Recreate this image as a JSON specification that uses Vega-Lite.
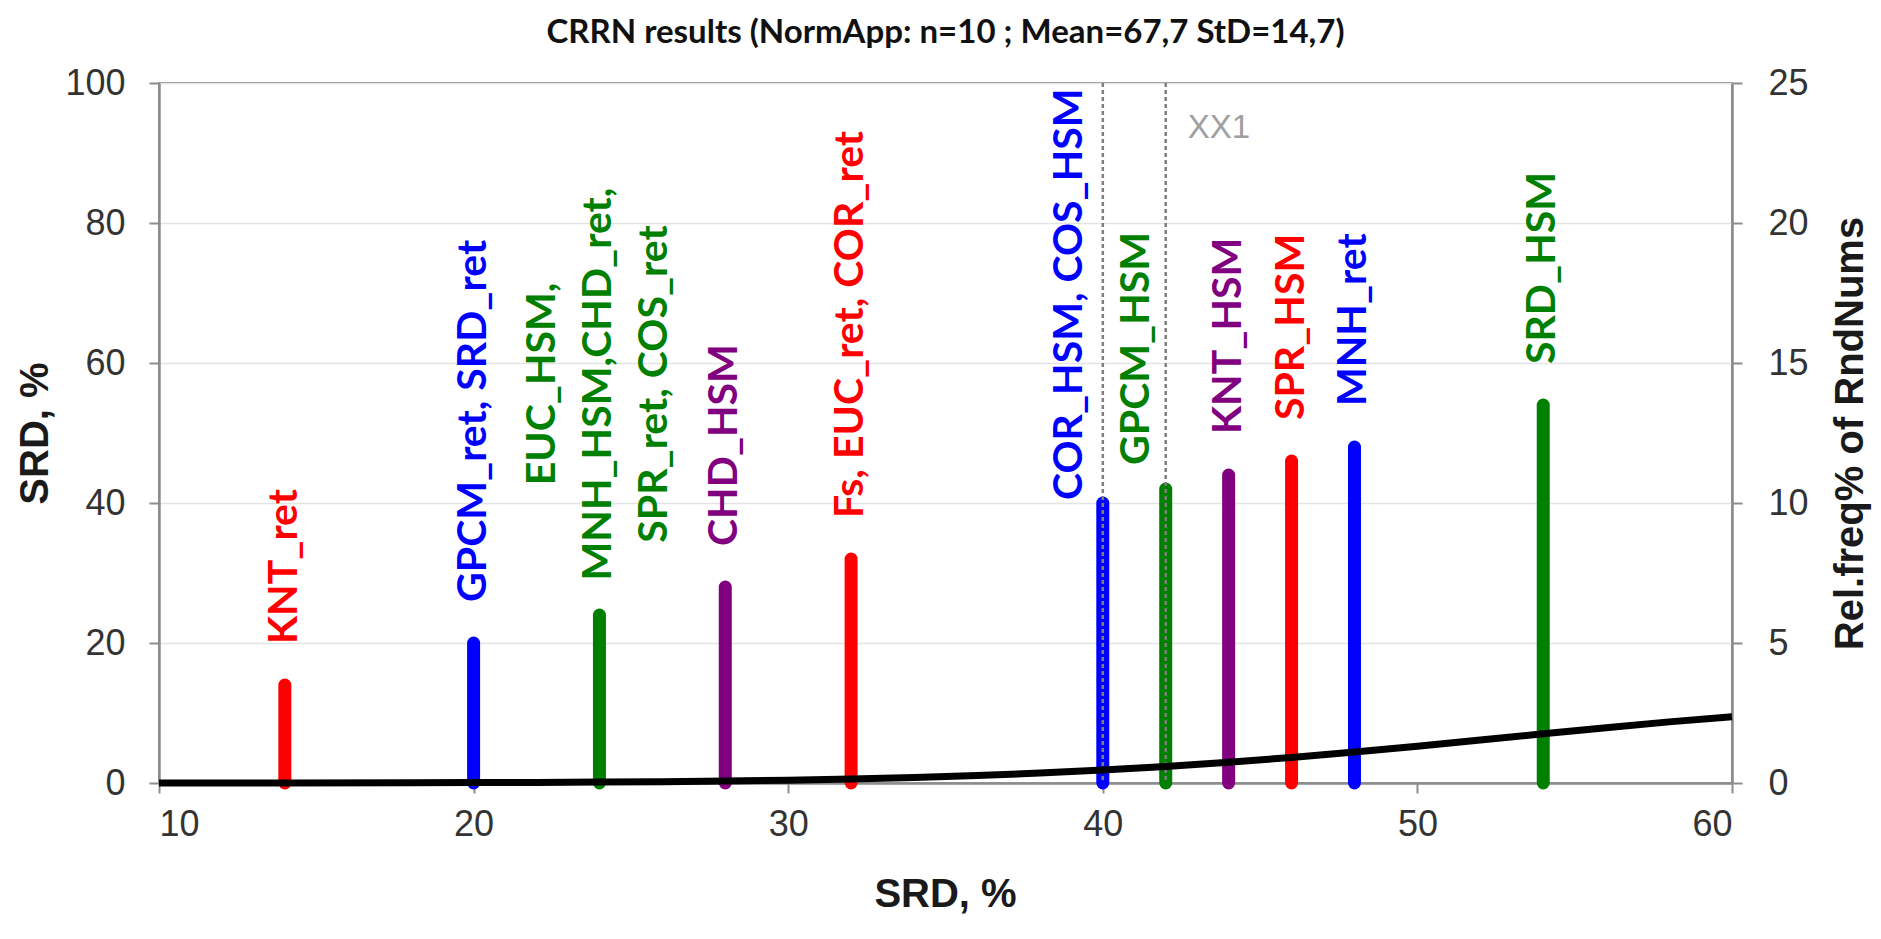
{
  "$schema": "https://vega.github.io/schema/vega-lite/v6.json",
  "width": 1573,
  "height": 700,
  "autosize": {"type": "none"},
  "padding": {"left": 159, "top": 83, "right": 149, "bottom": 156},
  "background": "white",
  "title": {
    "text": "CRRN results (NormApp: n=10 ; Mean=67,7 StD=14,7)",
    "font": "Lato, sans-serif",
    "fontSize": 33,
    "fontWeight": "bold",
    "color": "#111111",
    "anchor": "middle",
    "frame": "group",
    "baseline": "alphabetic",
    "offset": 23,
    "dy": 34
  },
  "config": {
    "view": {"stroke": "#8c8c8c", "strokeWidth": 2},
    "axis": {
      "domainColor": "#8c8c8c",
      "domainWidth": 2.5,
      "tickColor": "#8c8c8c",
      "tickWidth": 2,
      "tickSize": 10,
      "labelFont": "Liberation Sans, Arial, sans-serif",
      "labelFontSize": 36,
      "labelColor": "#333333",
      "titleFont": "Liberation Sans, Arial, sans-serif",
      "titleFontSize": 40,
      "titleFontWeight": "bold",
      "titleColor": "#1a1a1a"
    }
  },
  "datasets": {
    "hits": [
      {"x": 14, "y": 14, "grp": "red", "label": "KNT_ret"},
      {"x": 20, "y": 20, "grp": "blue", "label": "GPCM_ret,  SRD_ret"},
      {"x": 24, "y": 24, "grp": "green", "label": "EUC_HSM,\nMNH_HSM,CHD_ret,\nSPR_ret, COS_ret"},
      {"x": 28, "y": 28, "grp": "purple", "label": "CHD_HSM"},
      {"x": 32, "y": 32, "grp": "red", "label": "Fs, EUC_ret, COR_ret"},
      {"x": 40, "y": 40, "grp": "blue", "label": "COR_HSM, COS_HSM"},
      {"x": 42, "y": 42, "grp": "green", "label": "GPCM_HSM"},
      {"x": 44, "y": 44, "grp": "purple", "label": "KNT_HSM"},
      {"x": 46, "y": 46, "grp": "red", "label": "SPR_HSM"},
      {"x": 48, "y": 48, "grp": "blue", "label": "MNH_ret"},
      {"x": 54, "y": 54, "grp": "green", "label": "SRD_HSM"}
    ],
    "markers": [
      {"x": 40, "y": 100},
      {"x": 42, "y": 100}
    ],
    "notes": [
      {"x": 42, "y": 93.6, "label": "XX1"}
    ],
    "curve": [
      {"x": 10, "freq": 0.001},
      {"x": 14, "freq": 0.003},
      {"x": 18, "freq": 0.009},
      {"x": 20, "freq": 0.014},
      {"x": 22, "freq": 0.022},
      {"x": 24, "freq": 0.033},
      {"x": 26, "freq": 0.049},
      {"x": 28, "freq": 0.071},
      {"x": 30, "freq": 0.101},
      {"x": 32, "freq": 0.142},
      {"x": 34, "freq": 0.196},
      {"x": 36, "freq": 0.265},
      {"x": 38, "freq": 0.353},
      {"x": 40, "freq": 0.46},
      {"x": 42, "freq": 0.589},
      {"x": 44, "freq": 0.74},
      {"x": 46, "freq": 0.913},
      {"x": 48, "freq": 1.106},
      {"x": 50, "freq": 1.314},
      {"x": 52, "freq": 1.534},
      {"x": 54, "freq": 1.758},
      {"x": 56, "freq": 1.977},
      {"x": 58, "freq": 2.183},
      {"x": 60, "freq": 2.366}
    ]
  },
  "encoding": {
    "x": {
      "field": "x",
      "type": "quantitative",
      "scale": {"domain": [10, 60], "nice": false, "zero": false},
      "axis": {
        "values": [10, 20, 30, 40, 50, 60],
        "grid": false,
        "labelPadding": 14,
        "title": "SRD, %",
        "titleX": 786,
        "titleY": 111,
        "titleAlign": "center",
        "titleBaseline": "middle"
      }
    }
  },
  "layer": [
    {
      "encoding": {
        "y": {
          "field": "y",
          "type": "quantitative",
          "scale": {"domain": [0, 100], "nice": false},
          "axis": {
            "values": [0, 20, 40, 60, 80, 100],
            "grid": true,
            "gridColor": "#e4e4e4",
            "gridWidth": 1.5,
            "labelPadding": 24,
            "title": "SRD, %",
            "titleAngle": 270,
            "titleX": -124,
            "titleY": 350,
            "titleAlign": "center",
            "titleBaseline": "middle"
          }
        }
      },
      "layer": [
        {
          "data": {"name": "hits"},
          "mark": {"type": "rule", "strokeWidth": 13, "strokeCap": "round"},
          "encoding": {
            "y2": {"datum": 0},
            "color": {
              "field": "grp",
              "type": "nominal",
              "scale": {"domain": ["red", "blue", "green", "purple"], "range": ["#ff0000", "#0000ff", "#008000", "#800080"]},
              "legend": null
            }
          }
        },
        {
          "data": {"name": "markers"},
          "mark": {"type": "rule", "strokeWidth": 2.5, "strokeDash": [4, 3], "color": "#7f7f7f"},
          "encoding": {"y2": {"datum": 0}}
        },
        {
          "data": {"name": "notes"},
          "mark": {"type": "text", "align": "left", "baseline": "middle", "dx": 22, "font": "Liberation Sans, Arial, sans-serif", "fontSize": 33, "color": "#a0a0a0"},
          "encoding": {"text": {"field": "label"}}
        },
        {
          "data": {"name": "hits"},
          "transform": [{"filter": "indexof([14, 20, 28, 32, 44, 46, 48, 54], datum.x) >= 0"}],
          "mark": {"type": "text", "angle": 270, "align": "left", "baseline": "middle", "dx": 41, "font": "Lato, sans-serif", "fontSize": 41, "fontWeight": "bold"},
          "encoding": {
            "text": {"field": "label"},
            "color": {"field": "grp", "type": "nominal", "legend": null}
          }
        },
        {
          "data": {"name": "hits"},
          "transform": [{"filter": "datum.x == 24"}],
          "mark": {"type": "text", "angle": 270, "align": "center", "baseline": "middle", "lineBreak": "\n", "lineHeight": 56, "dx": 231, "dy": -56, "font": "Lato, sans-serif", "fontSize": 41, "fontWeight": "bold"},
          "encoding": {
            "text": {"field": "label"},
            "color": {"field": "grp", "type": "nominal", "legend": null}
          }
        },
        {
          "data": {"name": "hits"},
          "transform": [{"filter": "datum.x == 40"}],
          "mark": {"type": "text", "angle": 270, "align": "left", "baseline": "middle", "dx": 3, "dy": -33, "font": "Lato, sans-serif", "fontSize": 41, "fontWeight": "bold"},
          "encoding": {
            "text": {"field": "label"},
            "color": {"field": "grp", "type": "nominal", "legend": null}
          }
        },
        {
          "data": {"name": "hits"},
          "transform": [{"filter": "datum.x == 42"}],
          "mark": {"type": "text", "angle": 270, "align": "left", "baseline": "middle", "dx": 24, "dy": -29, "font": "Lato, sans-serif", "fontSize": 41, "fontWeight": "bold"},
          "encoding": {
            "text": {"field": "label"},
            "color": {"field": "grp", "type": "nominal", "legend": null}
          }
        }
      ]
    },
    {
      "data": {"name": "curve"},
      "mark": {"type": "line", "color": "#000000", "strokeWidth": 7},
      "encoding": {
        "y": {
          "field": "freq",
          "type": "quantitative",
          "scale": {"domain": [0, 25], "nice": false},
          "axis": {
            "orient": "right",
            "values": [0, 5, 10, 15, 20, 25],
            "grid": false,
            "labelPadding": 26,
            "title": "Rel.freq% of RndNums",
            "titleAngle": 270,
            "titleX": 118,
            "titleY": 350,
            "titleAlign": "center",
            "titleBaseline": "middle"
          }
        }
      }
    }
  ],
  "resolve": {"scale": {"y": "independent"}, "axis": {"y": "independent"}}
}
